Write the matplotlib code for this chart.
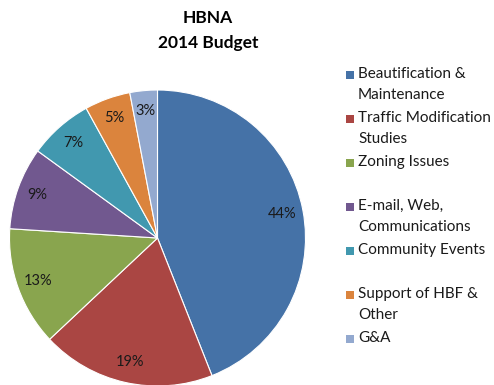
import matplotlib.pyplot as plt
from matplotlib.patches import Rectangle

plt.rcParams['font.family'] = ['Lato', 'DejaVu Sans']

# Budget shares (%)
categorias = ["Beautification &\nMaintenance", "Traffic Modification\nStudies",
              "Zoning Issues", "E-mail, Web,\nCommunications", "Community Events",
              "Support of HBF &\nOther", "G&A"]
porcentajes = [44, 19, 13, 9, 7, 5, 3]
colores = ["#4572A7", "#AA4643", "#89A54E", "#71588F", "#4198AF", "#DB843D", "#93A9CF"]

W, H = 494, 385
fig = plt.figure(figsize=(W / 100, H / 100), dpi=100)

# pie axes: centre (157.5, 238) px, radius 148 px
cx, cy, r = 157.5, 238, 148
ax = fig.add_axes([(cx - r) / W, (H - cy - r) / H, 2 * r / W, 2 * r / H])
wedges, textos, pct = ax.pie(porcentajes, colors=colores, startangle=90, counterclock=False,
                             autopct='%d%%', pctdistance=0.86, radius=1,
                             wedgeprops=dict(linewidth=0.8, edgecolor='white'),
                             textprops=dict(fontsize=10.5, color='#1a1a1a'))
ax.set_xlim(-1, 1)
ax.set_ylim(-1, 1)
ax.set_aspect('equal')
ax.axis('off')

fig.text(208 / W, 1 - 18 / H, "HBNA", ha='center', va='center', fontsize=12.5, fontweight='bold')
fig.text(208 / W, 1 - 43 / H, "2014 Budget", ha='center', va='center', fontsize=12.5, fontweight='bold')

# legend: each entry gets an equal slot, first line aligned with the swatch
y0, paso = 75, 44
for i, (nombre, color) in enumerate(zip(categorias, colores)):
    y = y0 + i * paso
    fig.patches.append(Rectangle(((346) / W, 1 - (y + 4) / H), 8 / W, 8 / H,
                                 transform=fig.transFigure, facecolor=color, edgecolor='none'))
    fig.text(358 / W, 1 - (y - 8) / H, nombre, ha='left', va='top', fontsize=11,
             color='#1a1a1a', linespacing=1.6)

fig.savefig("out.png", dpi=100, facecolor='white')
